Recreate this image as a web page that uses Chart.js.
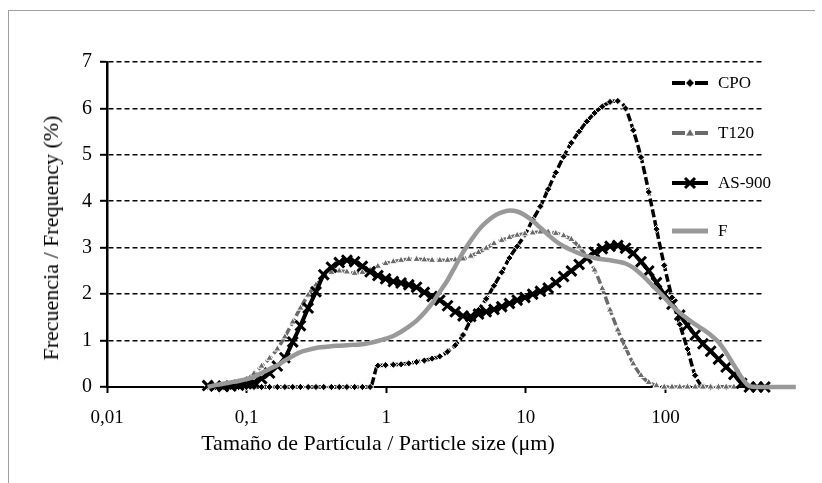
<!DOCTYPE html>
<html lang="es">
<head>
<meta charset="UTF-8">
<title>Frecuencia / Frequency</title>
<script src="https://cdn.jsdelivr.net/npm/chart.js"></script>
<style>
    body { margin: 0; background: #fff; }
    #wrap { position: relative; width: 822px; height: 483px; overflow: hidden; font-family: "Liberation Serif", "DejaVu Serif", serif; }
    #frame { position: absolute; left: 8px; top: 10px; width: 806px; height: 500px; border-left: 1px solid #a0a0a0; border-top: 1px solid #a0a0a0; }
    canvas { position: absolute; left: 0; top: 0; }
    .axis-title { position: absolute; font-size: 22px; color: #000; white-space: nowrap; transform: translate(-50%, -50%); }
    #ytitle { transform: translate(-50%, -50%) rotate(-90deg); }
    .leg-row { position: absolute; left: 672px; height: 20px; display: flex; align-items: center; font-size: 17px; color: #000; transform: translateY(-50%); }
    .leg-row svg { margin-right: 10px; }
</style>
</head>
<body>
<div id="wrap">
    <div id="frame"></div>
    <canvas id="psd" width="822" height="483"></canvas>
    <div class="axis-title" id="xtitle" style="left:378px; top:443px;">Tamaño de Partícula / Particle size (μm)</div>
    <div class="axis-title" id="ytitle" style="left:51px; top:238px;">Frecuencia / Frequency (%)</div>
    <div id="legend"></div>
</div>
<script>
// particle size classes (um)
const sizes = [
    0.0526, 0.0597, 0.0679, 0.0771, 0.0876, 0.0995, 0.113, 0.128, 0.146, 0.166,
    0.188, 0.214, 0.243, 0.276, 0.314, 0.357, 0.405, 0.461, 0.523, 0.594,
    0.675, 0.767, 0.872, 0.990, 1.125, 1.278, 1.452, 1.651, 1.875, 2.131,
    2.421, 2.750, 3.125, 3.550, 4.034, 4.583, 5.207, 5.916, 6.721, 7.636,
    8.676, 9.858, 11.20, 12.72, 14.46, 16.42, 18.66, 21.20, 24.09, 27.37,
    31.10, 35.33, 40.14, 45.60, 51.82, 58.87, 66.89, 76.00, 86.35, 98.10,
    111.5, 126.7, 143.9, 163.5, 185.8, 211.0, 239.8, 272.4, 309.5, 351.7,
    399.5, 453.9, 515.7, 585.9, 665.7, 756.3, 859.3
];

const cpo = [
    0, 0, 0, 0, 0, 0, 0, 0, 0, 0,
    0, 0, 0, 0, 0, 0, 0, 0, 0, 0,
    0, 0, 0.46, 0.47, 0.48, 0.49, 0.51, 0.54, 0.57, 0.61,
    0.66, 0.76, 0.90, 1.12, 1.44, 1.66, 1.90, 2.18, 2.47, 2.78,
    3.03, 3.28, 3.60, 3.89, 4.26, 4.62, 4.96, 5.26, 5.50, 5.72,
    5.90, 6.04, 6.14, 6.16, 6.00, 5.53, 4.95, 4.20, 3.40, 2.62,
    1.93, 1.35, 0.82, 0.25, 0.02, 0, 0, 0, null, null,
    null, null, null, null, null, null, null
];

const t120 = [
    0, 0.02, 0.04, 0.07, 0.11, 0.17, 0.29, 0.45, 0.62, 0.82,
    1.08, 1.40, 1.70, 1.98, 2.20, 2.38, 2.47, 2.50, 2.48, 2.45,
    2.47, 2.52, 2.60, 2.66, 2.70, 2.73, 2.75, 2.75, 2.74, 2.73,
    2.73, 2.73, 2.74, 2.76, 2.82, 2.90, 2.99, 3.09, 3.16, 3.22,
    3.27, 3.30, 3.32, 3.34, 3.34, 3.31, 3.26, 3.18, 3.02, 2.80,
    2.52, 2.12, 1.66, 1.23, 0.85, 0.50, 0.25, 0.10, 0.03, 0,
    0, 0, 0, 0, 0, 0, 0, 0, 0, null,
    null, null, null, null, null, null, null
];

const as900 = [
    0.03, 0.02, 0.01, 0.02, 0.04, 0.07, 0.10, 0.18, 0.30, 0.45,
    0.63, 0.97, 1.32, 1.70, 2.05, 2.42, 2.58, 2.68, 2.73, 2.70,
    2.60, 2.48, 2.40, 2.33, 2.27, 2.24, 2.20, 2.15, 2.04, 1.95,
    1.87, 1.75, 1.62, 1.53, 1.52, 1.57, 1.62, 1.67, 1.73, 1.80,
    1.87, 1.93, 2.00, 2.06, 2.13, 2.25, 2.38, 2.50, 2.64, 2.78,
    2.90, 2.98, 3.03, 3.05, 2.99, 2.88, 2.70, 2.50, 2.25, 2.00,
    1.78, 1.55, 1.33, 1.12, 0.93, 0.77, 0.60, 0.43, 0.27, 0.08,
    0, 0, 0, null, null, null, null
];

const fSample = [
    0, 0.04, 0.07, 0.10, 0.13, 0.17, 0.22, 0.30, 0.39, 0.47,
    0.57, 0.67, 0.75, 0.80, 0.84, 0.86, 0.88, 0.89, 0.90, 0.91,
    0.92, 0.95, 0.99, 1.04, 1.10, 1.19, 1.30, 1.43, 1.60, 1.80,
    2.05, 2.30, 2.60, 2.90, 3.15, 3.38, 3.55, 3.68, 3.76, 3.80,
    3.78, 3.70, 3.58, 3.43, 3.28, 3.14, 3.03, 2.95, 2.88, 2.82,
    2.78, 2.75, 2.73, 2.70, 2.66, 2.57, 2.43, 2.27, 2.10, 1.93,
    1.75, 1.60, 1.47, 1.35, 1.24, 1.12, 0.97, 0.74, 0.47, 0.20,
    0.02, 0, 0, 0, 0, 0, 0
];

const seriesNames = ["CPO", "T120", "AS-900", "F"];
const xTickValues = [0.01, 0.1, 1, 10, 100];
const xMin = 0.01, xMax = 492; // axis window; data past xMax still drawn, as in the original

const SERIF = "'Liberation Serif', 'DejaVu Serif', serif";

function toPoints(values) {
    const pts = [];
    values.forEach((v, i) => { if (v !== null) pts.push({ x: sizes[i], y: v }); });
    return pts;
}

const chart = new Chart(document.getElementById("psd"), {
    type: "line",
    data: {
        datasets: [
            {
                label: seriesNames[0], data: toPoints(cpo), order: 4,
                borderColor: "#000", borderWidth: 3.5, borderDash: [8, 3],
                pointStyle: "rectRot", pointRadius: 3.6, pointBackgroundColor: "#000",
                pointBorderColor: "#fff", pointBorderWidth: 1,
                cubicInterpolationMode: "monotone", clip: false
            },
            {
                label: seriesNames[1], data: toPoints(t120), order: 3,
                borderColor: "#6a6a6a", borderWidth: 3.5, borderDash: [8, 3],
                pointStyle: "triangle", pointRadius: 4.2, pointBackgroundColor: "#6a6a6a",
                pointBorderColor: "#fff", pointBorderWidth: 1,
                cubicInterpolationMode: "monotone", clip: false
            },
            {
                label: seriesNames[2], data: toPoints(as900), order: 2,
                borderColor: "#000", borderWidth: 4,
                pointStyle: "crossRot", pointRadius: 7, pointBorderColor: "#000",
                pointBorderWidth: 3,
                cubicInterpolationMode: "monotone", clip: false
            },
            {
                label: seriesNames[3], data: toPoints(fSample), order: 1,
                borderColor: "#999", borderWidth: 4.5, pointRadius: 0,
                cubicInterpolationMode: "monotone", clip: false
            }
        ]
    },
    options: {
        responsive: false,
        animation: false,
        devicePixelRatio: 1,
        layout: { padding: { top: 62, right: 60, bottom: 0, left: 0 } },
        plugins: { legend: { display: false }, tooltip: { enabled: false } },
        scales: {
            x: {
                type: "logarithmic",
                bounds: "data",
                afterDataLimits: s => { s.min = xMin; s.max = xMax; },
                afterFit: s => { s.height = 96; },
                afterBuildTicks: s => {
                    s.min = xMin; s.max = xMax;
                    s.ticks = xTickValues.map(v => ({ value: v }));
                },
                ticks: {
                    autoSkip: false, maxRotation: 0, padding: 14, color: "#000",
                    font: { family: SERIF, size: 19 },
                    callback: v => String(v).replace(".", ",")
                },
                grid: { drawOnChartArea: false, drawTicks: true, tickLength: 6, tickColor: "#000", tickWidth: 2 },
                border: { display: true, color: "#000", width: 2 }
            },
            y: {
                min: 0, max: 7,
                afterFit: s => { s.width = 107; },
                ticks: {
                    stepSize: 1, padding: 8, color: "#000",
                    font: { family: SERIF, size: 20 }
                },
                grid: {
                    color: c => (c.tick && c.tick.value === 0) ? "rgba(0,0,0,0)" : "#000",
                    lineWidth: 1.6, tickLength: 7, tickColor: "#000", tickWidth: 2
                },
                border: { display: true, color: "#000", width: 2.5, dash: [5, 3] }
            }
        }
    }
});

// legend drawn as html rows at the right side of the plot
const legendRows = [
    { y: 83,  svg: '<line x1="0" y1="8" x2="13" y2="8" stroke="#000" stroke-width="4"/><line x1="23" y1="8" x2="36" y2="8" stroke="#000" stroke-width="4"/><polygon points="18,3.5 22.5,8 18,12.5 13.5,8" fill="#000" stroke="#fff" stroke-width="1"/>' },
    { y: 133, svg: '<line x1="0" y1="8" x2="13" y2="8" stroke="#6a6a6a" stroke-width="4"/><line x1="23" y1="8" x2="36" y2="8" stroke="#6a6a6a" stroke-width="4"/><polygon points="18,3.5 22.5,11 13.5,11" fill="#6a6a6a" stroke="#fff" stroke-width="0.8"/>' },
    { y: 183, svg: '<line x1="0" y1="8" x2="36" y2="8" stroke="#000" stroke-width="4"/><line x1="13" y1="3" x2="23" y2="13" stroke="#000" stroke-width="3"/><line x1="13" y1="13" x2="23" y2="3" stroke="#000" stroke-width="3"/>' },
    { y: 231, svg: '<line x1="0" y1="8" x2="36" y2="8" stroke="#999" stroke-width="5"/>' }
];
const legend = document.getElementById("legend");
seriesNames.forEach((name, i) => {
    const row = document.createElement("div");
    row.className = "leg-row";
    row.style.top = legendRows[i].y + "px";
    row.innerHTML = '<svg width="36" height="16" viewBox="0 0 36 16">' + legendRows[i].svg + '</svg><span>' + name + '</span>';
    legend.appendChild(row);
});
</script>
</body>
</html>
